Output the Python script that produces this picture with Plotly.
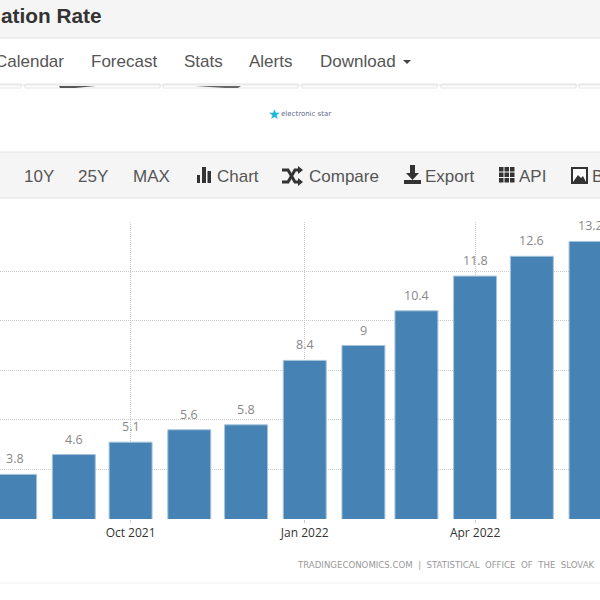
import plotly.graph_objects as go

months = ['2021-08-01', '2021-09-01', '2021-10-01', '2021-11-01', '2021-12-01', '2022-01-01',
          '2022-02-01', '2022-03-01', '2022-04-01', '2022-05-01', '2022-06-01']
inflation = [3.8, 4.6, 5.1, 5.6, 5.8, 8.4, 9, 10.4, 11.8, 12.6, 13.2]
date_ticks = ['2021-10-01', '2022-01-01', '2022-04-01']
date_tick_labels = ['Oct 2021', 'Jan 2022', 'Apr 2022']
nav_items = [('Calendar', -7), ('Forecast', 89), ('Stats', 182), ('Alerts', 247), ('Download', 318)]
toolbar_items = [('10Y', 22), ('25Y', 76), ('MAX', 131), ('Chart', 215), ('Compare', 307),
                 ('Export', 423), ('API', 517), ('B', 590)]

ui_font = 'Liberation Sans'
chart_font = 'Open Sans'
icon = '#333333'


def px(x):
    return x / 600


def py(y):
    return 1 - y / 600


def band(y0, y1, fill, line=None):
    return dict(type='rect', xref='paper', yref='paper', layer='below',
                x0=-0.01, x1=1.01, y0=py(y0), y1=py(y1), fillcolor=fill,
                line=dict(width=1 if line else 0, color=line or fill))


def box(x0, y0, x1, y1, fill):
    return dict(type='rect', xref='paper', yref='paper', x0=px(x0), x1=px(x1),
                y0=py(y0), y1=py(y1), fillcolor=fill, line_width=0)


def poly(points, fill=icon):
    path = 'M ' + ' L '.join(f'{px(x)} {py(y)}' for x, y in points) + ' Z'
    return dict(type='path', xref='paper', yref='paper', fillcolor=fill, line_width=0, path=path)


def label(text, x, y, size=17, color='#555555', font=ui_font):
    return dict(text=text, x=px(x), y=py(y), xref='paper', yref='paper', showarrow=False,
                xanchor='left', yanchor='middle', font=dict(size=size, color=color, family=font))


shapes = [
    band(-5, 38, '#f5f5f5', '#e3e3e3'),
    band(152, 198, '#f5f5f5', '#e3e3e3'),
    dict(type='line', xref='paper', yref='paper', x0=0, x1=1, y0=py(85), y1=py(85),
         line=dict(color='#e3e3e3', width=1)),
    dict(type='line', xref='paper', yref='paper', x0=0, x1=1, y0=py(583), y1=py(583),
         line=dict(color='#eeeeee', width=1)),
]
for x0, x1 in [(-5, 21), (25, 160), (163, 298), (302, 437), (441, 576), (579, 605)]:
    shapes.append(dict(type='rect', xref='paper', yref='paper', x0=px(x0), x1=px(x1),
                       y0=py(84), y1=py(88), line=dict(color='#e3e3e3', width=1)))
shapes += [poly([(59, 86), (96, 86), (75, 88), (60, 88)], '#555555'),
           poly([(195, 86), (241, 86), (238, 88), (225, 88)], '#666666')]

# toolbar icons
shapes += [box(197, 175, 200, 183, icon), box(202, 167, 206, 183, icon), box(207.5, 171, 211, 183, icon)]
shapes += [box(404, 180, 421, 184, icon), box(410, 165, 415, 174, icon),
           poly([(406, 173), (419, 173), (412.5, 180)])]
for cx in (499, 504.5, 510):
    for cy in (167, 172.5, 178):
        shapes.append(box(cx, cy, cx + 4.5, cy + 4.5, icon))
shapes.append(dict(type='rect', xref='paper', yref='paper', x0=px(572), x1=px(587), y0=py(168),
                   y1=py(183), fillcolor='#ffffff', line=dict(color=icon, width=2)))
shapes.append(poly([(573, 182), (578, 175), (581, 178), (583, 176), (586, 182)]))
shapes.append(poly([(403, 60), (411, 60), (407, 64)], '#444444'))
for y0, y1 in [(170, 182), (182, 170)]:
    shapes.append(dict(type='path', xref='paper', yref='paper', line=dict(color=icon, width=3),
                       path=f'M {px(282)} {py(y0)} L {px(288)} {py(y0)} L {px(295)} {py(y1)} L {px(298)} {py(y1)}'))
    shapes.append(poly([(298, y1 - 4), (303, y1), (298, y1 + 4)]))

annotations = [label('<b>ation Rate</b>', -1, 15, size=20.8, color='#333333')]
for name, x in nav_items:
    annotations.append(label(name, x, 62))
for name, x in toolbar_items:
    annotations.append(label(name, x, 176))
annotations.append(label('★', 266, 114, size=14, color='#1fb6dc', font='DejaVu Sans'))
annotations.append(label('electronic star', 279, 114, size=7, color='#666688', font='DejaVu Sans'))
annotations.append(label('TRADINGECONOMICS.COM  |  STATISTICAL\u00a0\u00a0OFFICE\u00a0\u00a0OF\u00a0\u00a0THE\u00a0\u00a0SLOVAK\u00a0\u00a0REPUBLIC',
                         295, 565, size=8.6, color='#999999', font='DejaVu Sans'))
for month, value in zip(months, inflation):
    annotations.append(dict(text=str(value), x=month, y=value, xref='x', yref='y', showarrow=False,
                            yanchor='bottom', yshift=5, font=dict(family=chart_font, size=12.5, color='#888888')))

fig = go.Figure(go.Bar(
    x=months, y=inflation, width=1.96e9,
    marker=dict(color='#4682b4', line=dict(color='#a6c3da', width=1))))

fig.update_xaxes(type='date', range=['2021-07-24', '2022-06-06'], tickmode='array',
                 tickvals=date_ticks, ticktext=date_tick_labels, showgrid=True,
                 gridcolor='#cccccc', griddash='1px,1px', gridwidth=1, showline=False, zeroline=False,
                 ticks='outside', ticklen=3, tickcolor='#cccccc',
                 tickfont=dict(family=chart_font, size=12, color='#333333'), anchor='y')
fig.update_yaxes(range=[2, 14], domain=[py(519), py(221.6)], dtick=2, tick0=2, showgrid=True,
                 gridcolor='#cccccc', griddash='1px,1px', gridwidth=1, showticklabels=False,
                 zeroline=False, showline=False)
fig.update_layout(width=600, height=600, margin=dict(l=0, r=0, t=0, b=0), showlegend=False,
                  plot_bgcolor='#ffffff', paper_bgcolor='#ffffff', shapes=shapes,
                  annotations=annotations)

fig.write_html('out.html', config={'displayModeBar': False},
               post_script="document.body.style.margin = '0';")
